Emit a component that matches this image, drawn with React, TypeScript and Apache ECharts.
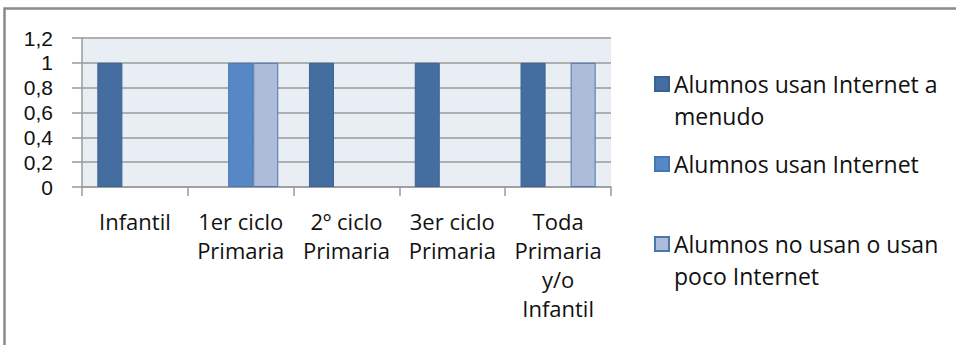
import React, { useEffect, useRef } from "react";
import * as echarts from "echarts";

const categories = [
  "Infantil",
  "1er ciclo\nPrimaria",
  "2º ciclo\nPrimaria",
  "3er ciclo\nPrimaria",
  "Toda\nPrimaria\ny/o\nInfantil",
];
const seriesNames = [
  "Alumnos usan Internet a\nmenudo",
  "Alumnos usan Internet",
  "Alumnos no usan o usan\npoco Internet",
];
const usanAMenudo = [1, 0, 1, 1, 1];
const usan = [0, 1, 0, 0, 0];
const noUsanOPoco = [0, 1, 0, 0, 1];

const FONT = "'Open Sans', sans-serif";

// zero values draw no bar (as in the reference)
const asBars = (arr: number[]) => arr.map((v) => (v === 0 ? null : v));

export default function App() {
  const ref = useRef<HTMLDivElement>(null);
  useEffect(() => {
    if (!ref.current) return;
    const chart = echarts.init(ref.current, undefined, { renderer: "svg" });
    const grey = "#9a9a9a";
    const legendBase = (top: number, name: string, twoLines: boolean) => ({
      left: 654,
      top,
      padding: 0,
      orient: "vertical",
      data: [name],
      itemWidth: 14,
      itemHeight: 14,
      icon: "rect",
      selectedMode: false,
      formatter: (n: string) => (twoLines ? "\n" + n : n),
      textStyle: {
        fontFamily: FONT,
        fontSize: 23,
        color: "#111",
        lineHeight: 32,
      },
    });
    chart.setOption({
      animation: false,
      textStyle: { fontFamily: FONT },
      graphic: [
        {
          type: "rect",
          shape: { x: 4.5, y: 8.5, width: 1000, height: 400 },
          style: { fill: "none", stroke: "#8a8a8a", lineWidth: 2.5 },
          silent: true,
        },
      ],
      grid: {
        left: 82,
        right: 345,
        top: 38,
        bottom: 158,
        show: true,
        backgroundColor: "#e9edf4",
        borderWidth: 0,
      },
      legend: [
        legendBase(36, seriesNames[0], true),
        legendBase(148, seriesNames[1], false),
        legendBase(196, seriesNames[2], true),
      ],
      xAxis: {
        type: "category",
        data: categories,
        axisLine: { show: true, lineStyle: { color: grey, width: 1.5 } },
        axisTick: { show: true, length: 9, lineStyle: { color: grey, width: 1.5 } },
        axisLabel: {
          interval: 0,
          margin: 19,
          fontFamily: FONT,
          fontSize: 22,
          lineHeight: 29,
          color: "#111",
        },
      },
      yAxis: {
        type: "value",
        min: 0,
        max: 1.2,
        interval: 0.2,
        axisLine: { show: true, lineStyle: { color: grey, width: 1.5 } },
        axisTick: { show: true, length: 10, lineStyle: { color: grey, width: 1.5 } },
        splitLine: { show: true, lineStyle: { color: grey, width: 1.5 } },
        axisLabel: {
          margin: 29,
          fontFamily: "'Liberation Sans', Arial, sans-serif",
          fontSize: 21,
          lineHeight: 20,
          color: "#111",
          formatter: (v: number) => String(Math.round(v * 10) / 10).replace(".", ","),
        },
      },
      series: [
        {
          name: seriesNames[0],
          type: "bar",
          data: asBars(usanAMenudo),
          barGap: "0%",
          barCategoryGap: "29%",
          itemStyle: { color: "#436e9f", borderColor: "#3a6392", borderWidth: 1 },
        },
        {
          name: seriesNames[1],
          type: "bar",
          data: asBars(usan),
          itemStyle: { color: "#5588c4", borderColor: "#4777b0", borderWidth: 1 },
        },
        {
          name: seriesNames[2],
          type: "bar",
          data: asBars(noUsanOPoco),
          itemStyle: { color: "#adbdd9", borderColor: "#4a78ad", borderWidth: 1 },
        },
      ],
    });
    return () => chart.dispose();
  }, []);
  return (
    <div
      ref={ref}
      style={{ position: "absolute", left: 0, top: 0, width: 956, height: 345, background: "#fff" }}
    />
  );
}
